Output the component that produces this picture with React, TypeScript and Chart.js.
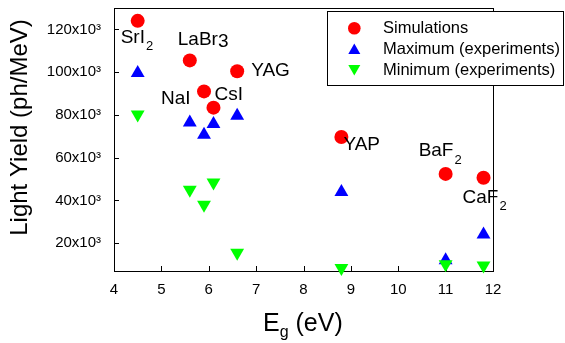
import React, { useEffect, useRef } from 'react';
import { Chart, registerables } from 'chart.js';

Chart.register(...registerables);

// ---------- data ----------
const materials = ['SrI2', 'LaBr3', 'NaI', 'CsI', 'YAG', 'YAP', 'BaF2', 'CaF2'];
const bandGap = [4.5, 5.6, 5.9, 6.1, 6.6, 8.8, 11.0, 11.8];
const simulations = [124000, 105500, 91000, 83400, 100400, 69700, 52400, 50600];
const maximumExp = [99600, 76500, 70700, 75700, 79600, 43900, 12000, 24100];
const minimumExp = [80200, 45000, 38000, 48400, 15500, 8400, 10100, 9600];

const seriesNames = ['Simulations', 'Maximum (experiments)', 'Minimum (experiments)'];
const xTickValues = [4, 5, 6, 7, 8, 9, 10, 11, 12];
const yTickValues = [20000, 40000, 60000, 80000, 100000, 120000];
const xRange = [4, 12];
const yRange = [7000, 130000];

// ---------- layout / style ----------
const FONT = "'Liberation Sans', Arial, sans-serif";
const RED = '#ff0000';
const BLUE = '#0000ff';
const GREEN = '#00ff00';

// label offsets (px) relative to the simulation point; kind: sub = subscript, low = lowered digit
const labelStyle: Record<string, { dx: number; dy: number; kind: 'sub' | 'low' | 'none' }> = {
  SrI2: { dx: -17, dy: 17, kind: 'sub' },
  LaBr3: { dx: -12, dy: -21, kind: 'low' },
  NaI: { dx: -43, dy: 7, kind: 'none' },
  CsI: { dx: 1, dy: -13, kind: 'none' },
  YAG: { dx: 14, dy: -1, kind: 'none' },
  YAP: { dx: 2, dy: 8, kind: 'none' },
  BaF2: { dx: -27, dy: -23, kind: 'sub' },
  CaF2: { dx: -21, dy: 20, kind: 'sub' },
};

function pts(ys: number[]) {
  return bandGap.map((x, i) => ({ x, y: ys[i] }));
}

const overlayPlugin = {
  id: 'overlay',
  beforeDatasetsDraw(chart: any) {
    const { ctx, chartArea: a } = chart;
    ctx.save();
    ctx.strokeStyle = '#000';
    ctx.lineWidth = 1;
    ctx.strokeRect(Math.round(a.left) + 0.5, Math.round(a.top) + 0.5, Math.round(a.right - a.left), Math.round(a.bottom - a.top));
    // inward ticks
    const xs = chart.scales.x;
    const ys = chart.scales.y;
    ctx.beginPath();
    xs.ticks.forEach((t: any) => {
      const px = Math.round(xs.getPixelForValue(t.value)) + 0.5;
      ctx.moveTo(px, Math.round(a.bottom));
      ctx.lineTo(px, Math.round(a.bottom) - 5);
    });
    ys.ticks.forEach((t: any) => {
      const py = Math.round(ys.getPixelForValue(t.value)) + 0.5;
      ctx.moveTo(Math.round(a.left), py);
      ctx.lineTo(Math.round(a.left) + 5, py);
    });
    ctx.stroke();
    ctx.restore();
  },
  afterDraw(chart: any) {
    const { ctx } = chart;
    const xs = chart.scales.x;
    const ys = chart.scales.y;
    ctx.save();
    ctx.fillStyle = '#000';
    ctx.textBaseline = 'middle';
    ctx.textAlign = 'left';
    // point labels
    materials.forEach((name, i) => {
      const st = labelStyle[name];
      const px = xs.getPixelForValue(bandGap[i]) + st.dx;
      const py = ys.getPixelForValue(simulations[i]) + st.dy;
      ctx.font = `19px ${FONT}`;
      if (st.kind === 'none') {
        ctx.fillText(name, px, py);
      } else {
        const main = name.slice(0, -1);
        const last = name.slice(-1);
        ctx.fillText(main, px, py);
        const w = ctx.measureText(main).width;
        if (st.kind === 'sub') {
          ctx.font = `13px ${FONT}`;
          ctx.fillText(last, px + w + 1, py + 9);
        } else {
          ctx.fillText(last, px + w, py + 2);
        }
      }
    });

    // axis titles
    ctx.font = `24px ${FONT}`;
    ctx.textAlign = 'center';
    ctx.save();
    ctx.translate(20, 127.5);
    ctx.rotate(-Math.PI / 2);
    ctx.fillText('Light Yield (ph/MeV)', 0, 0);
    ctx.restore();

    ctx.textAlign = 'left';
    ctx.textBaseline = 'alphabetic';
    let tx = 263;
    const tb = 330.5;
    ctx.font = `25px ${FONT}`;
    ctx.fillText('E', tx, tb);
    tx += ctx.measureText('E').width;
    ctx.font = `16px ${FONT}`;
    ctx.fillText('g', tx, tb + 6);
    tx += ctx.measureText('g').width;
    ctx.font = `25px ${FONT}`;
    ctx.fillText(' (eV)', tx, tb);

    // legend
    ctx.fillStyle = '#fff';
    ctx.fillRect(327, 11, 238, 75);
    ctx.strokeStyle = '#000';
    ctx.lineWidth = 1;
    ctx.strokeRect(327.5, 11.5, 236, 74);
    const rows = [28.3, 49, 70];
    const mx = 354.3;
    const colors = [RED, BLUE, GREEN];
    rows.forEach((ry, i) => {
      ctx.fillStyle = colors[i];
      ctx.beginPath();
      if (i === 0) {
        ctx.arc(mx, ry, 6.3, 0, Math.PI * 2);
      } else if (i === 1) {
        ctx.moveTo(mx, ry - 5.5);
        ctx.lineTo(mx + 6, ry + 5);
        ctx.lineTo(mx - 6, ry + 5);
        ctx.closePath();
      } else {
        ctx.moveTo(mx - 6, ry - 5);
        ctx.lineTo(mx + 6, ry - 5);
        ctx.lineTo(mx, ry + 5.5);
        ctx.closePath();
      }
      ctx.fill();
      ctx.fillStyle = '#000';
      ctx.font = `16.5px ${FONT}`;
      ctx.textBaseline = 'middle';
      ctx.fillText(seriesNames[i], 383, ry);
    });
    ctx.restore();
  },
};

export default function App() {
  const ref = useRef<HTMLCanvasElement | null>(null);
  useEffect(() => {
    if (!ref.current) return;
    const chart = new Chart(ref.current, {
      type: 'scatter',
      data: {
        datasets: [
          {
            label: seriesNames[0],
            data: pts(simulations),
            pointStyle: 'circle',
            pointRadius: 7,
            backgroundColor: RED,
            borderColor: RED,
            borderWidth: 0,
            order: 1,
          },
          {
            label: seriesNames[1],
            data: pts(maximumExp),
            pointStyle: 'triangle',
            pointRadius: 8,
            backgroundColor: BLUE,
            borderColor: BLUE,
            borderWidth: 0,
            order: 3,
          },
          {
            label: seriesNames[2],
            data: pts(minimumExp),
            pointStyle: 'triangle',
            rotation: 180,
            pointRadius: 8,
            backgroundColor: GREEN,
            borderColor: GREEN,
            borderWidth: 0,
            order: 2,
          } as any,
        ],
      },
      options: {
        responsive: false,
        animation: false,
        devicePixelRatio: 1,
        clip: false as any,
        layout: { padding: { top: 4, right: 72, left: 0, bottom: 0 } },
        plugins: { legend: { display: false }, tooltip: { enabled: false } },
        scales: {
          x: {
            type: 'linear',
            min: xRange[0],
            max: xRange[1],
            afterBuildTicks: (s: any) => {
              s.ticks = xTickValues.map((v) => ({ value: v }));
            },
            afterFit: (s: any) => {
              s.height = 72;
              s.paddingLeft = 0;
              s.paddingRight = 0;
            },
            grid: { display: false, drawTicks: false },
            border: { display: false },
            ticks: {
              padding: 10,
              color: '#000',
              font: { family: FONT, size: 15 },
              maxRotation: 0,
              autoSkip: false,
              callback: (v: any) => String(v),
            },
          },
          y: {
            type: 'linear',
            min: yRange[0],
            max: yRange[1],
            afterBuildTicks: (s: any) => {
              s.ticks = yTickValues.map((v) => ({ value: v }));
            },
            afterFit: (s: any) => {
              s.width = 114;
              s.paddingTop = 0;
              s.paddingBottom = 0;
            },
            grid: { display: false, drawTicks: false },
            border: { display: false },
            ticks: {
              padding: 13,
              color: '#000',
              font: { family: FONT, size: 15 },
              autoSkip: false,
              callback: (v: any) => `${Number(v) / 1000}x10\u00B3`,
            },
          },
        },
      },
      plugins: [overlayPlugin],
    });
    return () => chart.destroy();
  }, []);
  return (
    <div style={{ position: 'absolute', left: 0, top: 0, width: 565, height: 343, background: '#fff' }}>
      <canvas ref={ref} width={565} height={343} style={{ width: 565, height: 343, display: 'block' }} />
    </div>
  );
}
